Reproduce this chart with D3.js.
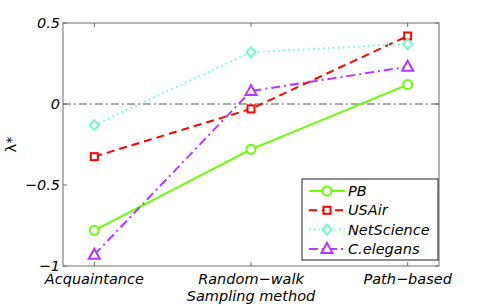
<!DOCTYPE html>
<html>
<head>
<meta charset="utf-8">
<script src="https://cdn.jsdelivr.net/npm/d3@7"></script>
<style>
  body { margin: 0; background: #fff; }
  text { font-family: "DejaVu Sans", "Liberation Sans", sans-serif; font-style: italic; }
</style>
</head>
<body>
<div id="chart"></div>
<script>
var methods = ["Acquaintance", "Random\u2212walk", "Path\u2212based"],
    seriesNames = ["PB", "USAir", "NetScience", "C.elegans"],
    pbValues = [-0.78, -0.28, 0.12],
    usairValues = [-0.325, -0.03, 0.42],
    netscienceValues = [-0.13, 0.32, 0.37],
    celegansValues = [-0.93, 0.08, 0.23],
    yTicks = [0.5, 0, -0.5, -1];

var width = 485, height = 306,
    margin = { top: 23, right: 46, bottom: 40, left: 63 },
    plotW = width - margin.left - margin.right,
    plotH = height - margin.top - margin.bottom;

var series = [
  { name: seriesNames[0], values: pbValues, color: "#66ff00", dash: null, marker: "circle" },
  { name: seriesNames[1], values: usairValues, color: "#ff0000", dash: "8,5", marker: "square" },
  { name: seriesNames[2], values: netscienceValues, color: "#66ffcc", dash: "1.5,3.5", marker: "diamond" },
  { name: seriesNames[3], values: celegansValues, color: "#bb33ff", dash: "9,4,2,4", marker: "triangle" }
];

var svg = d3.select("#chart").append("svg")
    .attr("width", width)
    .attr("height", height);

var g = svg.append("g")
    .attr("transform", "translate(" + margin.left + "," + margin.top + ")");

var x = d3.scaleLinear().domain([0.8, 3.2]).range([0, plotW]);
var y = d3.scaleLinear().domain([-1, 0.5]).range([plotH, 0]);

// box
g.append("rect")
  .attr("width", plotW).attr("height", plotH)
  .attr("fill", "none").attr("stroke", "#6e6e6e").attr("stroke-width", 1);

// ticks (inward) on all sides
var xt = [1, 2, 3];
g.selectAll(".xtb").data(xt).enter().append("line")
  .attr("x1", function(d) { return x(d); }).attr("x2", function(d) { return x(d); })
  .attr("y1", plotH).attr("y2", plotH - 4).attr("stroke", "#6e6e6e");
g.selectAll(".xtt").data(xt).enter().append("line")
  .attr("x1", function(d) { return x(d); }).attr("x2", function(d) { return x(d); })
  .attr("y1", 0).attr("y2", 4).attr("stroke", "#6e6e6e");
g.selectAll(".ytl").data(yTicks).enter().append("line")
  .attr("x1", 0).attr("x2", 4)
  .attr("y1", function(d) { return y(d); }).attr("y2", function(d) { return y(d); })
  .attr("stroke", "#6e6e6e");
g.selectAll(".ytr").data(yTicks).enter().append("line")
  .attr("x1", plotW).attr("x2", plotW - 4)
  .attr("y1", function(d) { return y(d); }).attr("y2", function(d) { return y(d); })
  .attr("stroke", "#6e6e6e");

// tick labels
g.selectAll(".ylab").data(yTicks).enter().append("text")
  .attr("x", -3).attr("y", function(d) { return y(d) + 5; })
  .attr("text-anchor", "end").attr("font-size", 14.5)
  .text(function(d) { return d === 0 ? "0" : (d < 0 ? "\u2212" + Math.abs(d) : d); });

g.selectAll(".xlab").data(methods).enter().append("text")
  .attr("x", function(d, i) { return x(i + 1); }).attr("y", plotH + 18)
  .attr("text-anchor", "middle").attr("font-size", 14.5)
  .text(function(d) { return d; });

g.append("text")
  .attr("x", x(2)).attr("y", plotH + 35)
  .attr("text-anchor", "middle").attr("font-size", 14.5)
  .text("Sampling method");

svg.append("text")
  .attr("transform", "translate(16," + (margin.top + y(-0.25)) + ") rotate(-90)")
  .attr("text-anchor", "middle").attr("font-size", 14.5).style("font-style", "normal")
  .text("\u03bb*");

// zero reference line
g.append("line")
  .attr("x1", 0).attr("x2", plotW).attr("y1", y(0)).attr("y2", y(0))
  .attr("stroke", "#555").attr("stroke-width", 1).attr("stroke-dasharray", "8,3,2,3");

function drawMarker(sel, type, cx, cy, color) {
  if (type === "circle") {
    sel.append("circle").attr("cx", cx).attr("cy", cy).attr("r", 4.5)
      .attr("fill", "#fff").attr("stroke", color).attr("stroke-width", 2);
  } else if (type === "square") {
    sel.append("rect").attr("x", cx - 3.5).attr("y", cy - 3.5).attr("width", 7).attr("height", 7)
      .attr("fill", "#fff").attr("stroke", color).attr("stroke-width", 2);
  } else if (type === "diamond") {
    sel.append("path").attr("d", "M" + cx + "," + (cy - 5) + "L" + (cx + 4.5) + "," + cy +
        "L" + cx + "," + (cy + 5) + "L" + (cx - 4.5) + "," + cy + "Z")
      .attr("fill", "#fff").attr("stroke", color).attr("stroke-width", 2);
  } else {
    sel.append("path").attr("d", "M" + cx + "," + (cy - 6) + "L" + (cx + 5.5) + "," + (cy + 4) +
        "L" + (cx - 5.5) + "," + (cy + 4) + "Z")
      .attr("fill", "#fff").attr("stroke", color).attr("stroke-width", 2);
  }
}

var line = d3.line()
  .x(function(d, i) { return x(i + 1); })
  .y(function(d) { return y(d); });

series.forEach(function(s) {
  g.append("path").datum(s.values)
    .attr("d", line).attr("fill", "none")
    .attr("stroke", s.color).attr("stroke-width", 2)
    .attr("stroke-dasharray", s.dash);
  s.values.forEach(function(v, i) {
    drawMarker(g, s.marker, x(i + 1), y(v), s.color);
  });
});

// legend
var lg = g.append("g").attr("transform", "translate(" + (plotW - 137) + "," + (plotH - 87) + ")");
lg.append("rect").attr("width", 136).attr("height", 81)
  .attr("fill", "#fff").attr("stroke", "#222").attr("stroke-width", 1);
series.forEach(function(s, i) {
  var ly = 12 + i * 19.3;
  lg.append("line").attr("x1", 7).attr("x2", 43).attr("y1", ly).attr("y2", ly)
    .attr("stroke", s.color).attr("stroke-width", 2).attr("stroke-dasharray", s.dash);
  drawMarker(lg, s.marker, 25, ly, s.color);
  lg.append("text").attr("x", 46).attr("y", ly + 5).attr("font-size", 14.5).text(s.name);
});
</script>
</body>
</html>
